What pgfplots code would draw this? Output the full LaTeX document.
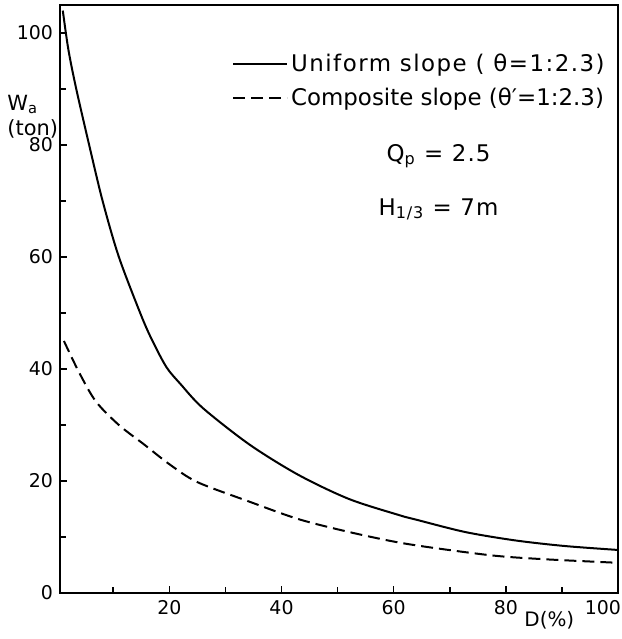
\documentclass[border=0pt]{standalone}
\usepackage{pgfplots}
\pgfplotsset{compat=1.18}
\usepackage{fontspec}
\setmainfont{DejaVu Sans}
\newfontfamily\lblfont[LetterSpace=5]{DejaVu Sans}
\newfontfamily\wideflont[LetterSpace=6.5]{DejaVu Sans}

\begin{document}
\begin{tikzpicture}
\begin{axis}[
  name=ax,
  scale only axis,
  width=279bp, height=294bp,
  xmin=0.5, xmax=100, ymin=0, ymax=105,
  xtick={20,40,60,80,100},
  xticklabels={20,40,60,80,{\hspace*{3bp}\llap{100}}},
  minor xtick={10,30,50,70,90},
  ytick={0,20,...,100},
  minor ytick={10,30,...,90},
  tick pos=left,
  tick align=inside,
  major tick length=3.5bp, minor tick length=3bp,
  axis line style={line width=1.1bp},
  every tick/.style={line width=0.8bp, black},
  tick label style={font=\fontsize{9.5}{11}\selectfont},
  /pgf/number format/assume math mode=true,
  clip=false,
  legend style={draw=none, fill=none, at={(rel axis cs:0.297,0.93)}, anchor=north west,
    font=\fontsize{11.5}{13}\selectfont, row sep=4bp,
    nodes={inner sep=1.5bp}},
  legend cell align=left,
  legend image code/.code={\draw[#1] (0bp,0bp) -- (27bp,0bp);},
]
\addplot[black, line width=1bp, smooth] coordinates {
  (1,104) (2,97) (3.4,90) (5.7,80) (8.1,70) (11,60) (15,49.5) (17,45) (19.5,40.3)
  (22,37.3) (26,33) (34.3,26.5) (43,21.1) (52,16.8) (61,13.9) (64,13.1) (72.7,10.9)
  (81.6,9.4) (90.4,8.4) (99.8,7.7)
};
\addlegendentry{\wideflont Uniform slope ( θ=1:2.3)}
\addplot[black, line width=1bp, dash pattern=on 6bp off 3bp, smooth] coordinates {
  (1.2,45) (3.9,39.4) (6.9,34.2) (11,30) (15.4,26.6) (20,23) (25,19.8)
  (34.3,16.3) (43,13.2) (52,10.9) (61,9) (69.7,7.7) (78.6,6.6) (87.4,6.0) (99.8,5.4)
};
\addlegendentry{Composite slope (θ′=1:2.3)}
\node[font=\lblfont\fontsize{11.5}{13}\selectfont] at (axis cs:68,78) {Q\textsubscript{p} = 2.5};
\node[font=\lblfont\fontsize{11.5}{13}\selectfont] at (axis cs:68,68.5) {H\textsubscript{1/3} = 7m};
\node[font=\fontsize{10.5}{12.5}\selectfont, align=left, anchor=west, inner sep=0pt] at (rel axis cs:0,0.81) [xshift=-26.5bp] {W\textsubscript{a}\\(ton)};
\node[font=\fontsize{10}{12}\selectfont] at (rel axis cs:0.877,0) [yshift=-13.5bp] {D(\%)};
\end{axis}
\pgfresetboundingbox
\path[use as bounding box] ([xshift=-30bp,yshift=-23bp]ax.south west) rectangle ([xshift=2bp,yshift=2.5bp]ax.north east);
\end{tikzpicture}
\end{document}
